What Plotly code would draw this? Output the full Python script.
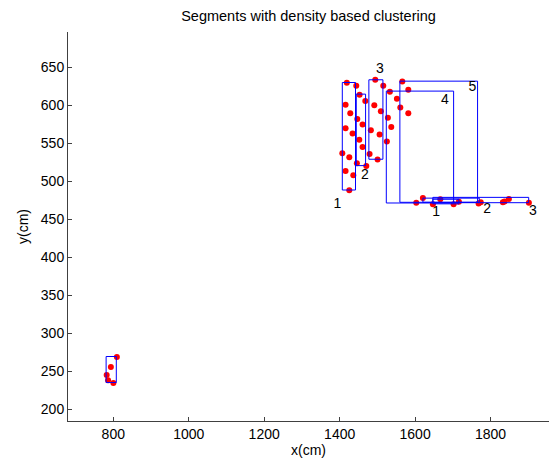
import plotly.graph_objects as go

# Points (cm)
pts_x = [1419, 1444, 1452.8, 1467.9, 1415.7, 1428.1, 1446.7, 1460.7, 1415.7, 1434.2, 1452, 1460.7,
         1494.4, 1515.6, 1533.1, 1491.8, 1509.2, 1482.7, 1505.8, 1527.8, 1536.8, 1525.1,
         1566, 1581.9, 1551.7, 1560.7, 1581.9,
         1407, 1425.5, 1415.7, 1436.1, 1425.5, 1445.6, 1470.6, 1479.3, 1500.5,
         1603, 1620.6, 1647, 1666.7, 1702, 1716, 1768.2, 1774, 1832.6, 1837, 1848.5, 1901.5,
         782.5, 793.6, 809.5, 786.2, 800.3]
pts_y = [630, 625.9, 614, 606, 600.8, 589.8, 582.3, 574.8, 570.1, 563, 555, 545.4,
         633.8, 625.9, 618, 600.4, 592.5, 567.4, 561.6, 583.7, 571.8, 552.4,
         631.5, 620.6, 608.8, 597.2, 589.8,
         537.1, 531.8, 513.8, 508.1, 488.3, 523.9, 520.4, 536.2, 528.7,
         472, 478.2, 469.9, 476.5, 470, 473.3, 471, 472.5, 472.5, 473.5, 476.8, 472,
         245.2, 255.8, 269, 238.2, 234.7]

# Segment bounding boxes (cm)
box_x0 = [1407, 1444, 1477.4, 1523.6, 1559.6, 1647, 1620.6, 1647, 781]
box_x1 = [1442, 1468.7, 1514.6, 1702, 1765.5, 1716, 1770, 1901, 808]
box_y0 = [488.7, 520.8, 529.2, 471.6, 472.5, 470.5, 472.5, 472, 235.2]
box_y1 = [630.2, 614.9, 633.8, 618.9, 632, 476.5, 478, 479, 269.5]

# Segment labels
lab_text = ["1", "2", "3", "4", "5", "1", "2", "3"]
lab_x = [1394, 1466.6, 1506.6, 1679, 1751.5, 1655.8, 1791, 1912]
lab_y = [470, 507.6, 647.9, 606.5, 624.1, 459.3, 462.4, 461]

x_ticks = [800, 1000, 1200, 1400, 1600, 1800]
y_ticks = [200, 250, 300, 350, 400, 450, 500, 550, 600, 650]

bx, by = [], []
for a, b, c, d in zip(box_x0, box_x1, box_y0, box_y1):
    bx += [a, b, b, a, a, None]
    by += [c, c, d, d, c, None]

FAM = "Liberation Sans, Arial"
font = dict(family=FAM, size=14, color="#000000")
tfont = dict(family=FAM, size=14.5, color="#000000")

fig = go.Figure()
fig.add_trace(go.Scatter(x=pts_x, y=pts_y, mode="markers",
                         marker=dict(color="#ff0000", size=6, line=dict(width=0)),
                         showlegend=False, hoverinfo="skip"))
fig.add_trace(go.Scatter(x=bx, y=by, mode="lines",
                         line=dict(color="#0000ff", width=1),
                         showlegend=False, hoverinfo="skip"))
fig.add_trace(go.Scatter(x=lab_x, y=lab_y, mode="text", text=lab_text,
                         textfont=font, textposition="middle center",
                         showlegend=False, hoverinfo="skip"))

fig.update_layout(
    width=549, height=462,
    margin=dict(l=68, r=0, t=32, b=41),
    paper_bgcolor="white", plot_bgcolor="white",
    font=font,
    title=dict(text="Segments with density based clustering", x=0.5, xref="paper",
               xanchor="center", y=1 - 16 / 462, yanchor="middle", font=tfont),
    xaxis=dict(range=[680, 1954.8], tickvals=x_ticks, ticks="inside", ticklen=4,
               tickcolor="#404040", showline=True, linecolor="#404040", linewidth=1,
               showgrid=False, zeroline=False, mirror=False,
               title=dict(text="x(cm)", standoff=4, font=font), tickfont=font),
    yaxis=dict(range=[184.6, 696.7], tickvals=y_ticks, ticks="inside", ticklen=4,
               tickcolor="#404040", showline=True, linecolor="#404040", linewidth=1,
               showgrid=False, zeroline=False, mirror=False,
               title=dict(text="y(cm)", standoff=8, font=font), tickfont=font),
)
fig.write_html("out.html")
